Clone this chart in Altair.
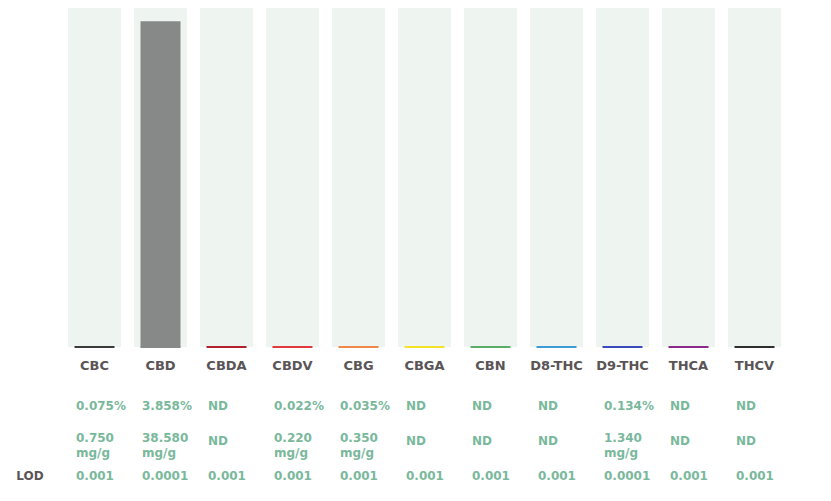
import altair as alt
import pandas as pd

cats = ["CBC", "CBD", "CBDA", "CBDV", "CBG", "CBGA", "CBN", "D8-THC", "D9-THC", "THCA", "THCV"]
pct = [0.075, 3.858, None, 0.022, 0.035, None, None, None, 0.134, None, None]
mg = [0.750, 38.580, None, 0.220, 0.350, None, None, None, 1.340, None, None]
lod = ["0.001", "0.0001", "0.001", "0.001", "0.001", "0.001", "0.001", "0.001", "0.0001", "0.001", "0.001"]
line_colors = ["#3a3a3a", "#878988", "#b3202f", "#e03a3e", "#f0884a", "#f3e12a",
               "#5aae68", "#3a9bd8", "#3b4bbd", "#8c2a8c", "#2e2e2e"]
main_compound = "CBD"

df = pd.DataFrame({
    "cat": cats,
    "pct": [p if p is not None else 0 for p in pct],
    "pct_label": [f"{p:.3f}%" if p is not None else "ND" for p in pct],
    "mg_label": [f"{m:.3f}" if m is not None else "" for m in mg],
    "mg_unit": ["mg/g" if m is not None else "" for m in mg],
    "nd_label": ["ND" if m is None else "" for m in mg],
    "lod": lod,
})

FONT = "DejaVu Sans"
GREEN = "#7ab89c"
DARK = "#5a5456"

xenc = alt.X("cat:N", sort=cats,
             scale=alt.Scale(domain=cats, range=[60, 773], paddingInner=13 / 66, paddingOuter=0),
             axis=None)
yscale = alt.Scale(domain=[0, 4.05], range=[342, 0])

base = alt.Chart(df)

bg = base.mark_bar(color="#eef5f0", size=53).encode(
    x=xenc, y=alt.value(0), y2=alt.value(342))

bars = base.mark_bar(color="#878988", size=40).encode(
    x=xenc, y=alt.Y("pct:Q", scale=yscale, axis=None), y2=alt.datum(0)
).transform_filter(alt.datum.cat == main_compound)

ticks = base.mark_tick(orient="horizontal", size=40, thickness=2, opacity=1).encode(
    x=xenc, y=alt.Y("zero:Q", scale=yscale, axis=None),
    color=alt.Color("cat:N", scale=alt.Scale(domain=cats, range=line_colors), legend=None)
).transform_calculate(zero="0")

def txt(field, ypx, color=GREEN, align="left", dx=-18.5, size=12):
    return base.mark_text(font=FONT, fontWeight="bold", fontSize=size, color=color,
                          align=align, baseline="middle", dx=dx).encode(
        x=xenc, y=alt.value(ypx), text=f"{field}:N")

labels = txt("cat", 361, color=DARK, align="center", dx=0, size=13)
pct_t = txt("pct_label", 401)
mg_t = txt("mg_label", 433)
unit_t = txt("mg_unit", 448)
nd_t = txt("nd_label", 436)
lod_t = txt("lod", 471)

lod_lbl = alt.Chart(pd.DataFrame({"t": ["LOD"]})).mark_text(
    font=FONT, fontWeight="bold", fontSize=12, color=DARK, align="center", baseline="middle"
).encode(x=alt.value(22), y=alt.value(471), text="t:N")

chart = alt.layer(bg, bars, ticks, labels, pct_t, mg_t, unit_t, nd_t, lod_t, lod_lbl).properties(
    width=815, height=488, autosize=alt.AutoSizeParams(type="none"),
    padding={"left": 0, "top": -3, "right": 0, "bottom": 0},
    background="white"
).configure_view(stroke=None)

chart.save("out.html", embed_options={"renderer": "svg", "actions": False})
